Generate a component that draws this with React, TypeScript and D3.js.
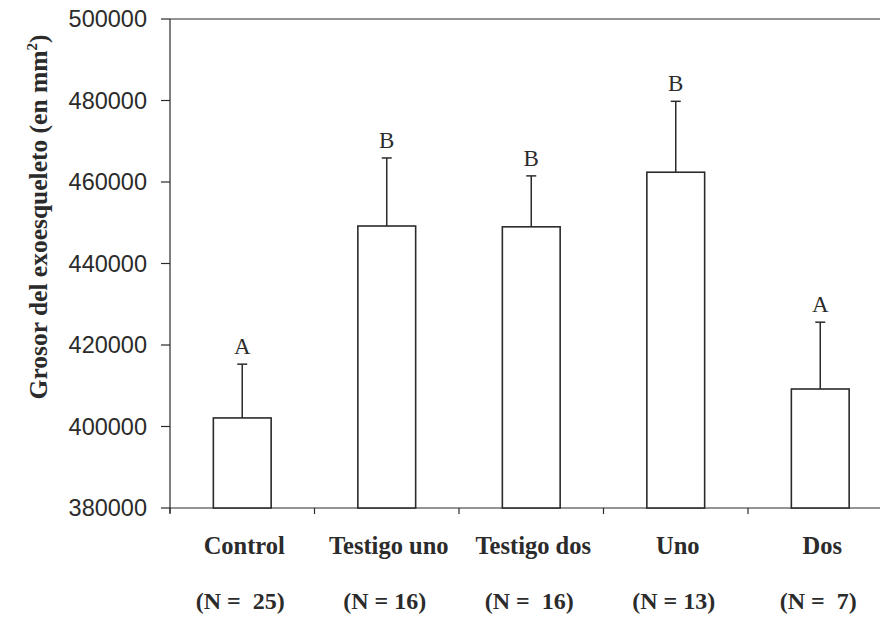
import React from "react";
import * as d3 from "d3";

const categories = ["Control", "Testigo uno", "Testigo dos", "Uno", "Dos"];
const nLabels = ["(N =  25)", "(N = 16)", "(N =  16)", "(N = 13)", "(N =  7)"];
const means = [402100, 449200, 449000, 462400, 409200];
const errors = [13200, 16700, 12500, 17400, 16400];
const letters = ["A", "B", "B", "B", "A"];
const yTicks = [380000, 400000, 420000, 440000, 460000, 480000, 500000];

const W = 880;
const H = 624;
const INK = "#2b2b2b";

export default function App() {
  const x = d3.scaleBand<string>().domain(categories).range([170, 892.5]).paddingInner(0).paddingOuter(0);
  const y = d3.scaleLinear().domain([380000, 500000]).range([508, 19]);
  const bw = x.bandwidth() * 0.4;
  const x0 = 170;
  const serif = "'Liberation Serif', 'Times New Roman', serif";
  const sans = "'Liberation Sans', Arial, sans-serif";
  const boundaries = categories.map((c) => x(c) as number).concat([(x(categories[4]) as number) + x.bandwidth()]);

  return (
    <svg width={W} height={H} style={{ position: "absolute", left: 0, top: 0, background: "#fff" }}>
      <line x1={x0} x2={W} y1={y(500000)} y2={y(500000)} stroke={INK} strokeWidth={1.2} />
      <line x1={x0} x2={x0} y1={y(500000)} y2={y(380000) + 5} stroke={INK} strokeWidth={1.2} />
      {yTicks.map((t) => (
        <g key={t}>
          <line x1={x0 - 9} x2={x0} y1={y(t)} y2={y(t)} stroke={INK} strokeWidth={1.2} />
          <text x={147} y={y(t)} dy="0.36em" textAnchor="end" fontFamily={sans} fontSize={23.5} fill={INK}>
            {t}
          </text>
        </g>
      ))}
      <line x1={x0} x2={W} y1={y(380000)} y2={y(380000)} stroke={INK} strokeWidth={1.2} />
      {boundaries.map((b, i) => (
        <line key={i} x1={b} x2={b} y1={y(380000)} y2={y(380000) + 6} stroke={INK} strokeWidth={1.2} />
      ))}
      {categories.map((c, i) => {
        const cx = (x(c) as number) + x.bandwidth() / 2;
        const top = y(means[i]);
        const cap = y(means[i] + errors[i]);
        return (
          <g key={c}>
            <rect x={cx - bw / 2} y={top} width={bw} height={y(380000) - top} fill="#fff" stroke={INK} strokeWidth={1.6} />
            <line x1={cx} x2={cx} y1={top} y2={cap} stroke={INK} strokeWidth={1.5} />
            <line x1={cx - 5} x2={cx + 5} y1={cap} y2={cap} stroke={INK} strokeWidth={1.5} />
            <text x={cx} y={cap - 10} textAnchor="middle" fontFamily={serif} fontSize={23} fill={INK}>
              {letters[i]}
            </text>
            <text x={cx + 2} y={554} textAnchor="middle" fontFamily={serif} fontWeight="bold" fontSize={24.5} fill={INK}>
              {c}
            </text>
            <text x={cx - 2} y={609} textAnchor="middle" fontFamily={serif} fontWeight="bold" fontSize={24} fill={INK} style={{ whiteSpace: "pre" }}>
              {nLabels[i]}
            </text>
          </g>
        );
      })}
      <text transform="translate(47,217) rotate(-90)" textAnchor="middle" fontFamily={serif} fontWeight="bold" fontSize={25.5} fill={INK}>
        Grosor del exoesqueleto (en mm
        <tspan fontSize={15} dy={-10}>2</tspan>
        <tspan dy={10}>)</tspan>
      </text>
    </svg>
  );
}
